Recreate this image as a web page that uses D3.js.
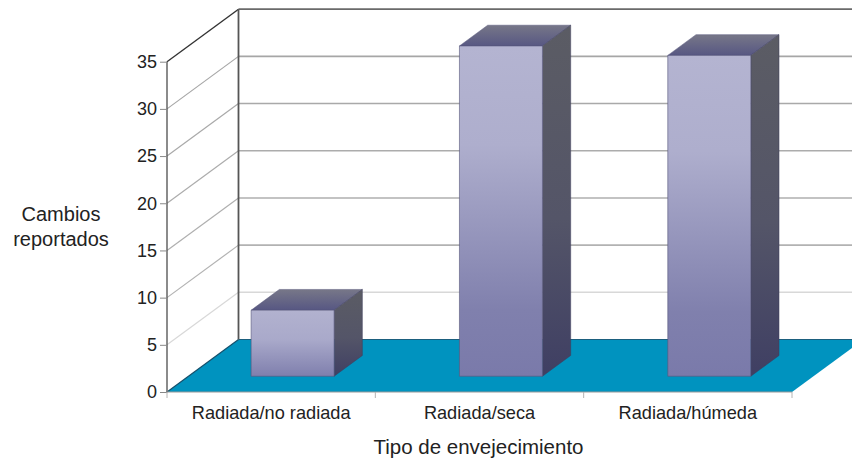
<!DOCTYPE html>
<html lang="es">
<head>
<meta charset="utf-8">
<script src="https://cdn.jsdelivr.net/npm/d3@7"></script>
<style>
html,body{margin:0;padding:0;background:#fff}
svg{display:block}
text{font-family:"Liberation Sans",Arial,sans-serif;fill:#222}
</style>
</head>
<body>
<svg id="chart" width="852" height="465"></svg>
<script>
// Chart values
const categories = ["Radiada/no radiada", "Radiada/seca", "Radiada/húmeda"];
const reportedChanges = [7, 35, 34];
const yTicks = [0, 5, 10, 15, 20, 25, 30, 35];
const yAxisTitle = ["Cambios", "reportados"];
const xAxisTitle = "Tipo de envejecimiento";

const svg = d3.select("#chart");
const width = 852, height = 465;

// Front-plane scales and the oblique offset of the back wall
const x = d3.scaleBand().domain(categories).range([167, 792]);
const y = d3.scaleLinear().domain([0, 35]).range([392, 61.7]);
const depth = {dx: 71.5, dy: -52.5};
const barWidth = 83;
const barNear = 0.3, barFar = 0.695;   // bar position along the floor depth

const pt = (px, py, t = 1) => [px + depth.dx * t, py + depth.dy * t];
const poly = pts => pts.map(p => p.join(",")).join(" ");

// Gradients
const defs = svg.append("defs");
function vGrad(id, stops) {
  const g = defs.append("linearGradient").attr("id", id)
    .attr("x1", 0).attr("y1", 0).attr("x2", 0).attr("y2", 1);
  stops.forEach(([o, c]) => g.append("stop").attr("offset", o).attr("stop-color", c));
}
vGrad("front", [[0, "#b4b4d1"], [0.3, "#aeaecd"], [0.8, "#8080ad"], [1, "#7a7aaa"]]);
vGrad("frontShort", [[0, "#b2b2cf"], [0.45, "#a9a9ca"], [1, "#7f7fad"]]);
vGrad("side", [[0, "#5b5c64"], [0.55, "#545568"], [1, "#3f3f63"]]);
vGrad("top", [[0, "#777788"], [1, "#575783"]]);

// Floor
const x0 = x.range()[0], x1 = x.range()[1];
const yBase = y(0);
svg.append("polygon")
  .attr("points", poly([[x0, yBase], [x1, yBase], pt(x1, yBase), pt(x0, yBase)]))
  .attr("fill", "#0093bf");
svg.append("line")
  .attr("x1", pt(x0, yBase)[0]).attr("y1", pt(x0, yBase)[1])
  .attr("x2", pt(x1, yBase)[0]).attr("y2", pt(x1, yBase)[1])
  .attr("stroke", "#1b5f7e").attr("stroke-width", 1.2);
svg.append("line")
  .attr("x1", x0).attr("y1", yBase).attr("x2", pt(x0, yBase)[0]).attr("y2", pt(x0, yBase)[1])
  .attr("stroke", "#14506c").attr("stroke-width", 1.2);

// Gridlines: along the side wall and across the back wall, fading toward the floor
const gridTone = d3.scaleLinear().domain([5, 10, 30]).range(["#d8d8d8", "#b2b2b2", "#a6a6a6"]);
const grid = svg.append("g");
yTicks.filter(t => t > 0).forEach(t => {
  const top = t === 35;
  const a = [x0, y(t)], b = pt(x0, y(t));
  grid.append("line").attr("x1", a[0]).attr("y1", a[1]).attr("x2", b[0]).attr("y2", b[1])
    .attr("stroke", top ? "#333" : gridTone(t)).attr("stroke-width", top ? 1.4 : 1.2);
  grid.append("line").attr("x1", b[0]).attr("y1", b[1]).attr("x2", width).attr("y2", b[1])
    .attr("stroke", top ? "#6a6a6a" : gridTone(t)).attr("stroke-width", top ? 1.8 : 1.6);
});

// Axis frame
svg.append("line").attr("x1", x0).attr("x2", x0).attr("y1", y(35)).attr("y2", yBase)
  .attr("stroke", "#5a5a5a").attr("stroke-width", 1.4);
svg.append("line").attr("x1", pt(x0, 0)[0]).attr("x2", pt(x0, 0)[0])
  .attr("y1", pt(x0, y(35))[1]).attr("y2", pt(x0, yBase)[1])
  .attr("stroke", "#555").attr("stroke-width", 1.8);

// Y axis ticks and labels
const yAxis = svg.append("g").attr("transform", `translate(${x0},0)`)
  .call(d3.axisLeft(y).tickValues(yTicks).tickSize(7).tickPadding(3));
yAxis.select(".domain").remove();
yAxis.selectAll(".tick line").attr("stroke", "#888").attr("stroke-width", 1);
yAxis.selectAll(".tick text")
  .attr("font-family", "'Liberation Sans',Arial,sans-serif").attr("font-size", 18).attr("fill", "#222");

// X axis line, ticks and labels
const xTickPositions = d3.range(categories.length + 1)
  .map(i => x0 + i * x.step());
svg.append("line").attr("x1", x0).attr("x2", x1).attr("y1", yBase).attr("y2", yBase)
  .attr("stroke", "#9a9a9a").attr("stroke-width", 1.2);
svg.selectAll(".x-tick").data(xTickPositions).join("line").attr("class", "x-tick")
  .attr("x1", d => d).attr("x2", d => d).attr("y1", yBase).attr("y2", yBase + 6)
  .attr("stroke", "#b4b4b4").attr("stroke-width", 1);
svg.selectAll(".x-label").data(categories).join("text").attr("class", "x-label")
  .attr("x", d => x(d) + x.bandwidth() / 2).attr("y", 419)
  .attr("text-anchor", "middle").attr("font-size", 18.2).text(d => d);

// Bars, each one an oblique box standing on the floor
const bars = svg.selectAll(".bar").data(categories.map((c, i) => ({c, v: reportedChanges[i]})))
  .join("g").attr("class", "bar");
bars.each(function (d) {
  const g = d3.select(this);
  const cx = x(d.c) + x.bandwidth() / 2;
  const h = yBase - y(d.v);
  const fl = cx - barWidth / 2, fr = cx + barWidth / 2;
  const a = pt(fl, yBase, barNear), b = pt(fr, yBase, barNear);
  const at = [a[0], a[1] - h], bt = [b[0], b[1] - h];
  const off = barFar - barNear;
  const shift = p => [p[0] + depth.dx * off, p[1] + depth.dy * off];
  const edge = "#56567a";
  g.append("polygon").attr("points", poly([at, bt, shift(bt), shift(at)]))
    .attr("fill", "url(#top)").attr("stroke", edge).attr("stroke-width", 0.5);
  g.append("polygon").attr("points", poly([b, bt, shift(bt), shift(b)]))
    .attr("fill", "url(#side)").attr("stroke", "#3c3c5c").attr("stroke-width", 0.5);
  g.append("polygon").attr("points", poly([a, b, bt, at]))
    .attr("fill", d.v < 10 ? "url(#frontShort)" : "url(#front)")
    .attr("stroke", edge).attr("stroke-width", 0.6);
});

// Axis titles
svg.selectAll(".y-title").data(yAxisTitle).join("text").attr("class", "y-title")
  .attr("x", 61).attr("y", (d, i) => 221 + i * 24.5)
  .attr("text-anchor", "middle").attr("font-size", 20).text(d => d);
svg.append("text").attr("x", 478.5).attr("y", 454)
  .attr("text-anchor", "middle").attr("font-size", 20.5).text(xAxisTitle);
</script>
</body>
</html>
